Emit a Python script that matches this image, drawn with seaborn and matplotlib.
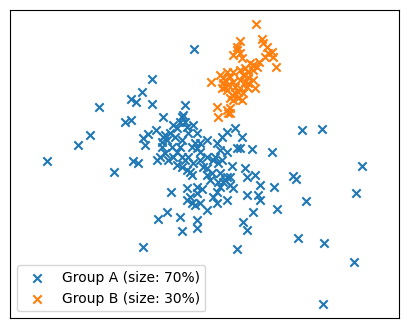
import matplotlib
matplotlib.use("Agg")
import matplotlib.pyplot as plt
import seaborn as sns
import pandas as pd

# Group A points
a_x = [58.3, 45.5, 42.7, 39.3, 40.8, 45.7, 29.7, 55.6, 49.0, 37.5, 39.3, 55.0,
       27.0, 23.5, 14.0, 34.3, 40.0, 41.5, 46.7, 52.0, 54.0, 58.0, 43.0, 44.5,
       43.5, 49.0, 51.0, 53.0, 56.0, 59.0, 62.0, 60.0, 58.5, 59.0, 54.5, 54.0,
       48.5, 49.5, 47.0, 52.0, 54.5, 55.5, 56.5, 53.0, 54.5, 57.0, 57.5, 60.0,
       62.0, 61.0, 64.0, 65.5, 66.5, 65.0, 66.5, 68.0, 70.5, 72.5, 71.0, 72.0,
       75.5, 81.5, 69.7, 73.5, 76.5, 78.0, 74.0, 68.0, 67.0, 69.0, 70.0, 66.0,
       65.0, 64.0, 65.0, 68.0, 74.0, 77.5, 78.0, 76.0, 83.0, 82.3, 88.0, 88.7,
       90.7, 96.7, 108.7, 106.7, 91.8, 62.0, 60.0, 58.5, 57.0, 56.0, 56.0, 59.0,
       60.5, 63.0, 62.0, 51.3, 50.2, 47.5, 54.0, 59.0, 59.0, 54.5, 72.8, 74.0,
       71.2, 43.0, 89.5, 97.3, 106.3, 97.0,
       50.0, 52.5, 56.5, 57.5, 60.0, 58.0, 56.0, 50.5, 48.0, 51.5, 53.0, 62.0,
       63.5, 66.0, 67.5, 65.5, 69.0, 66.0, 64.5, 68.0, 59.0, 57.5, 55.5, 54.5,
       49.5, 48.5]
a_y = [81.2, 72.2, 68.4, 66.4, 65.5, 64.7, 63.8, 64.5, 60.8, 59.4, 59.9, 61.5,
       55.6, 52.4, 47.6, 44.3, 47.8, 47.0, 57.0, 58.5, 59.5, 58.5, 54.5, 55.7,
       52.5, 55.0, 56.0, 57.5, 58.0, 56.0, 54.0, 53.0, 53.0, 51.5, 54.0, 52.0,
       52.0, 50.0, 48.0, 49.0, 49.0, 48.0, 49.0, 46.5, 46.0, 44.5, 43.5, 48.0,
       49.0, 46.0, 48.0, 47.0, 48.0, 53.0, 55.0, 56.5, 57.5, 55.0, 51.5, 51.5,
       51.2, 50.5, 46.3, 45.5, 43.5, 40.5, 43.0, 43.0, 41.5, 40.5, 39.5, 40.0,
       38.5, 37.0, 35.0, 36.0, 37.5, 37.5, 36.0, 32.5, 33.2, 40.0, 43.2, 42.3,
       57.0, 57.2, 46.2, 38.0, 35.6, 33.0, 35.0, 34.5, 37.0, 36.0, 39.5, 40.0,
       39.2, 42.0, 43.5, 38.3, 32.5, 30.2, 30.8, 30.0, 27.7, 26.7, 29.3, 27.0,
       21.2, 21.8, 24.7, 23.0, 17.5, 4.7,
       54.0, 55.0, 56.0, 52.0, 50.5, 47.0, 45.0, 48.0, 49.0, 52.0, 50.5, 45.5,
       44.0, 44.0, 42.0, 41.5, 43.0, 51.0, 49.0, 50.5, 38.0, 35.0, 59.5, 61.0,
       55.5, 53.5]

# Group B points
b_x = [76.8, 78.5, 72.0, 71.2, 70.0, 72.0, 80.0, 81.5, 79.5, 77.8, 82.8, 77.0,
       75.0, 73.5, 72.0, 74.5, 68.0, 66.0, 69.0, 63.3, 67.0, 66.5, 68.0, 70.0,
       72.0, 73.5, 76.0, 76.5, 74.0, 71.5, 69.5, 71.5, 72.5, 70.0, 69.0, 68.5,
       65.0, 65.5, 67.5, 80.5, 76.0, 74.5, 70.5, 68.5, 73.0,
       79.0, 71.0, 72.5, 67.5, 69.0, 68.0, 76.0, 73.0, 70.5, 69.0, 82.0, 67.0,
       72.0, 74.5, 70.0]
b_y = [88.8, 84.2, 83.8, 82.0, 79.5, 80.0, 82.0, 80.5, 79.0, 77.5, 76.0, 76.0,
       77.0, 75.5, 75.0, 74.5, 74.5, 73.5, 73.0, 71.5, 71.0, 69.5, 69.0, 71.5,
       72.0, 71.5, 72.0, 69.5, 70.0, 68.5, 67.5, 66.5, 66.0, 66.0, 63.5, 62.0,
       63.8, 61.0, 72.0, 80.0, 75.0, 73.0, 70.0, 70.5, 68.0,
       83.0, 81.0, 78.5, 70.0, 62.0, 63.0, 76.5, 73.5, 68.0, 66.5, 79.0, 72.5,
       69.5, 71.0, 74.5]

labels = ["Group A (size: 70%)", "Group B (size: 30%)"]
colors = ["#1f77b4", "#ff7f0e"]

df_a = pd.DataFrame({"x": a_x, "y": a_y})
df_b = pd.DataFrame({"x": b_x, "y": b_y})

fig = plt.figure(figsize=(4.07, 3.28), dpi=100)
ax = fig.add_axes([0.0254, 0.0296, 0.9542, 0.939])

sns.scatterplot(data=df_a, x="x", y="y", marker="x", color=colors[0],
                s=36, linewidth=1.5, label=labels[0], ax=ax)
sns.scatterplot(data=df_b, x="x", y="y", marker="x", color=colors[1],
                s=36, linewidth=1.5, label=labels[1], ax=ax)

ax.set_xlim(3.1, 119.6)
ax.set_ylim(0.5, 92.9)
ax.set_xticks([])
ax.set_yticks([])
ax.set_xlabel("")
ax.set_ylabel("")
ax.legend(loc="lower left")

fig.savefig("out.png", dpi=100)
